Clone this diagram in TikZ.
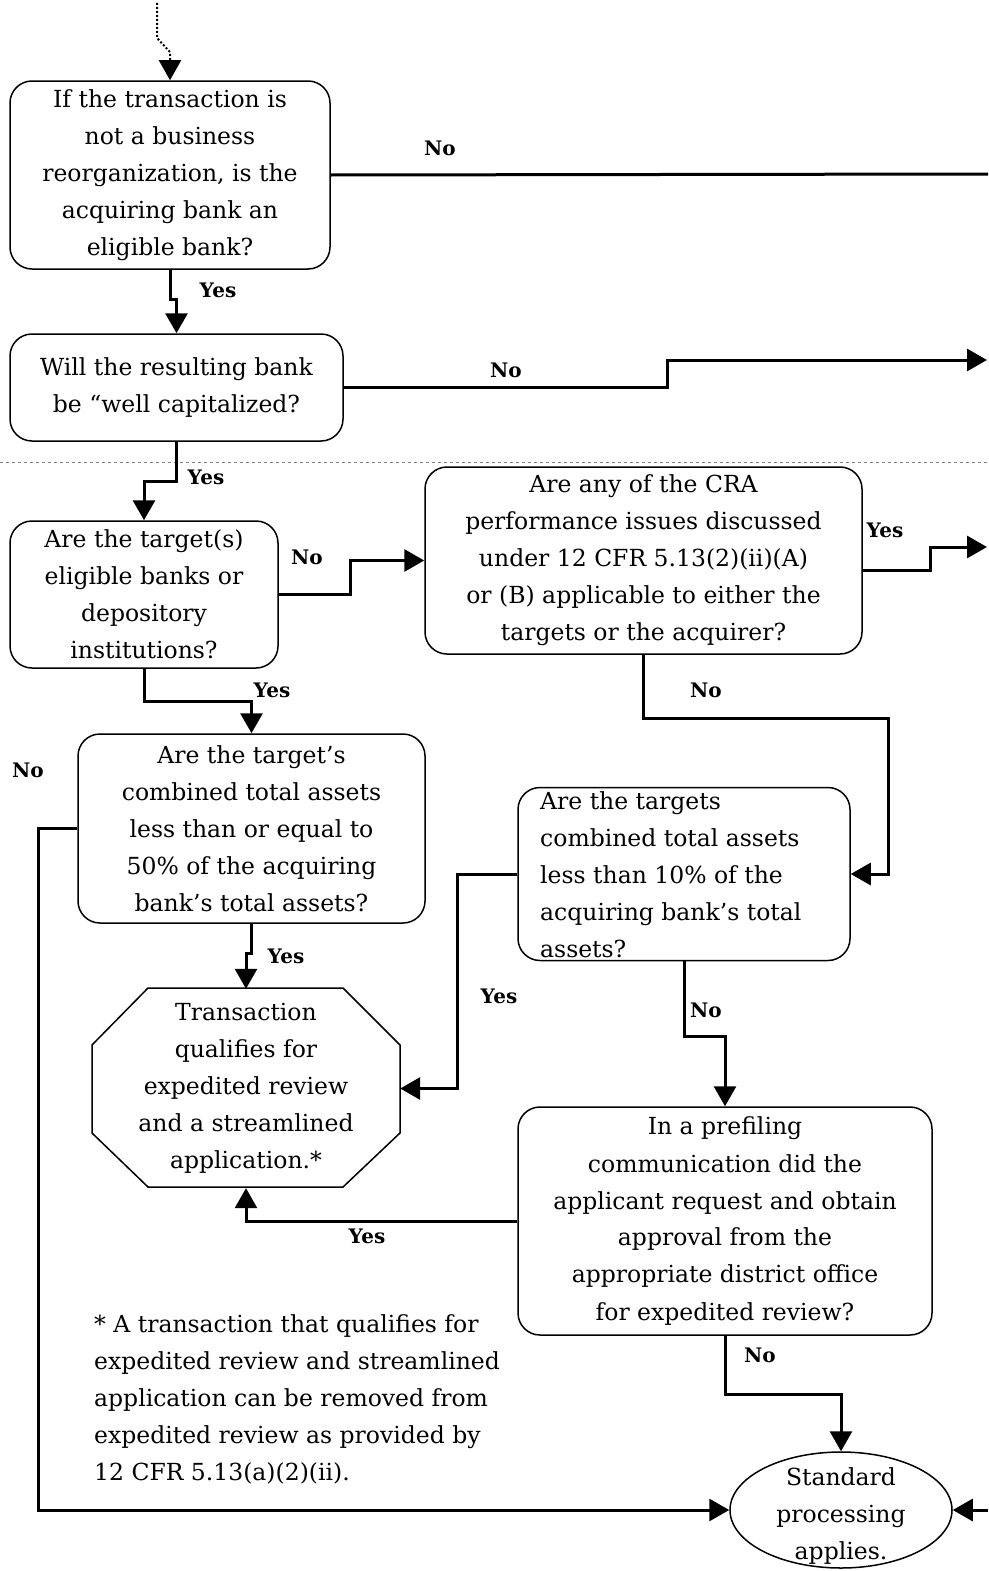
\documentclass[tikz,border=0pt]{standalone}
\usepackage{fontspec}
\setmainfont{DejaVu Serif}
\usetikzlibrary{arrows.meta,shapes.geometric,calc}
\begin{document}
\begin{tikzpicture}[x=1pt,y=-1pt,
  box/.style={draw,line width=1.5pt,rounded corners=22pt,inner sep=0pt,align=center,
    font=\fontsize{23.5}{37}\selectfont},
  txt/.style={inner sep=0pt,font=\fontsize{23.5}{37}\selectfont},
  conn/.style={line width=3pt},
  arr/.style={line width=3pt,-{Triangle[width=22pt,length=20pt]}},
  lbl/.style={inner sep=0pt,font=\fontsize{20}{21}\selectfont\bfseries}]
\fill[white] (0,0) rectangle (988,1571);
\useasboundingbox (0,0) rectangle (988,1571);

% dashed separator
\draw[gray,dashed,line width=1pt] (0,462) -- (988,462);

% nodes
\node[box,minimum width=320pt,minimum height=188pt] (b1) at (170,175)
  {If the transaction is\\not a business\\reorganization, is the\\acquiring bank an\\eligible bank?};
\node[box,minimum width=333pt,minimum height=107pt] (b2) at (176.5,387.5)
  {Will the resulting bank\\be “well capitalized?};
\node[box,minimum width=268pt,minimum height=147pt] (b3) at (144,594.5)
  {Are the target(s)\\eligible banks or\\depository\\institutions?};
\node[box,minimum width=437pt,minimum height=187pt] (b4) at (643.5,560.5)
  {Are any of the CRA\\performance issues discussed\\under 12 CFR 5.13(2)(ii)(A)\\or (B) applicable to either the\\targets or the acquirer?};
\node[box,minimum width=347pt,minimum height=189pt] (b5) at (251.5,828.5)
  {Are the target’s\\combined total assets\\less than or equal to\\50\% of the acquiring\\bank’s total assets?};
\node[box,minimum width=332pt,minimum height=173pt] (b6) at (684,874) {};
\node[txt,anchor=west,align=left] (b6t) at (540,875)
  {Are the targets\\combined total assets\\less than 10\% of the\\acquiring bank’s total\\assets?};
\node[box,minimum width=414pt,minimum height=228pt] (b7) at (725,1221)
  {In a prefiling\\communication did the\\applicant request and obtain\\approval from the\\appropriate district office\\for expedited review?};
\node[txt,align=center,minimum width=308pt,minimum height=199pt] (oct) at (246,1088.5)
  {Transaction\\qualifies for\\expedited review\\and a streamlined\\application.*};
\draw[line width=1.5pt] (148,988) -- (343,988) -- (400,1045) -- (400,1133) -- (343,1187)
  -- (148,1187) -- (92,1133) -- (92,1045) -- cycle;
\node[ellipse,draw,line width=1.5pt,minimum width=222pt,minimum height=116pt,inner sep=0pt] (ell) at (841,1510) {};
\node[txt,align=center] (ellt) at (841,1516) {Standard\\processing\\applies.};
\node[txt,anchor=west,align=left] (foot) at (94,1399)
  {* A transaction that qualifies for\\expedited review and streamlined\\application can be removed from\\expedited review as provided by\\12 CFR 5.13(a)(2)(ii).};

% free ends
\coordinate (dtop) at (157,3);
\coordinate (e1) at (988,174);
\coordinate (e2) at (987,360);
\coordinate (e4) at (987,547);
\coordinate (e8) at (988,1510);
\coordinate (c4) at (888,718);
\coordinate (c5) at (38,828.5);

% connectors
\draw[dotted,line width=2pt,-{Triangle[width=22pt,length=20pt]}] (dtop) -- (157,38) -- (170,52) -- (b1.north);
\draw[conn] (b1.east) -- (e1);
\draw[arr] (b1.south) -- ++(0,30) -| (b2.north);
\draw[arr] (b2.east) -- (667,387.5) |- (e2);
\draw[arr] (b2.south) -- ++(0,40) -| (b3.north);
\draw[arr] (b3.east) -- ++(72,0) |- (b4.west);
\draw[arr] ([yshift=-10pt]b4.east) -- ++(68,0) |- (e4);
\draw[arr] (b4.south) |- (c4) |- (b6.east);
\draw[arr] (b3.south) -- ++(0,33) -| (b5.north);
\draw[arr] (b5.west) -- (c5) |- (ell.west);
\draw[arr] (b5.south) -- ++(0,30) -| (oct.north);
\draw[arr] (b6.west) -- ++(-60,0) |- (oct.east);
\draw[arr] (b6.south) -- ++(0,75) -| (b7.north);
\draw[arr] (b7.west) -| (oct.south);
\draw[arr] (b7.south) -- ++(0,59) -| (ell.north);
\draw[arr] (e8) -- (ell.east);

% labels
\node[lbl] at (440,148) {No};
\node[lbl] at (218,290) {Yes};
\node[lbl] at (506,370) {No};
\node[lbl] at (206,477) {Yes};
\node[lbl] at (307,557) {No};
\node[lbl] at (885,530) {Yes};
\node[lbl] at (706,690) {No};
\node[lbl] at (272,690) {Yes};
\node[lbl] at (28,770) {No};
\node[lbl] at (286,956) {Yes};
\node[lbl] at (499,996) {Yes};
\node[lbl] at (706,1010) {No};
\node[lbl] at (367,1236) {Yes};
\node[lbl] at (760,1355) {No};
\end{tikzpicture}
\end{document}
